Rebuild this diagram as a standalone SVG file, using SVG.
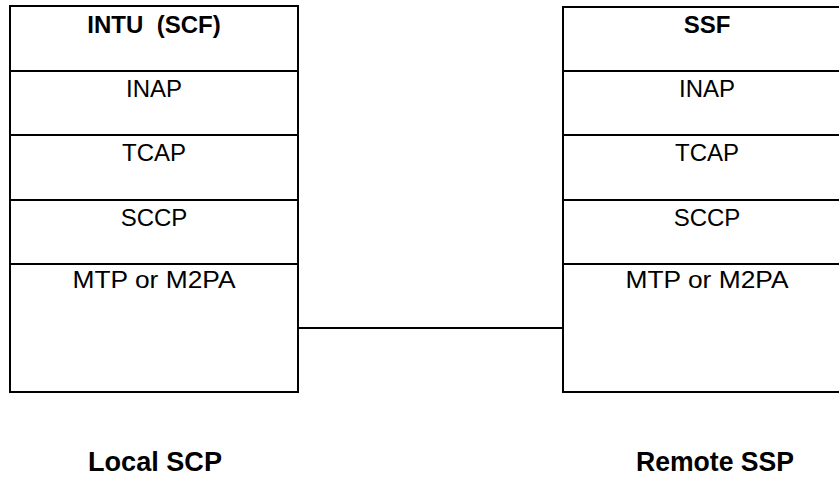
<svg xmlns="http://www.w3.org/2000/svg" width="839" height="488" viewBox="0 0 839 488">
<style>
.box{fill:#fff;stroke:#000;stroke-width:2}
.div{stroke:#000;stroke-width:2}
.t{font-family:"Liberation Sans",Arial,sans-serif;font-size:24px;text-anchor:middle;fill:#000}
.b{font-weight:bold}
.lbl{font-family:"Liberation Sans",Arial,sans-serif;font-size:27px;font-weight:bold;text-anchor:middle;fill:#000}
</style>
<g id="connectors">
<line x1="298" y1="328" x2="563" y2="328" stroke="#000" stroke-width="2"/>
</g>
<g id="local-stack">
<rect class="box" x="10" y="6" width="288" height="386"/>
<line class="div" x1="10" y1="71" x2="298" y2="71"/>
<line class="div" x1="10" y1="135" x2="298" y2="135"/>
<line class="div" x1="10" y1="200" x2="298" y2="200"/>
<line class="div" x1="10" y1="264" x2="298" y2="264"/>
<text class="t b" x="154" y="33" xml:space="preserve">INTU  (SCF)</text>
<text class="t" x="154" y="97">INAP</text>
<text class="t" x="154" y="161">TCAP</text>
<text class="t" x="154" y="226">SCCP</text>
<text class="t" x="154" y="288" textLength="163" lengthAdjust="spacingAndGlyphs">MTP or M2PA</text>
</g>
<g id="remote-stack">
<rect class="box" x="563" y="7" width="288" height="385"/>
<line class="div" x1="563" y1="71" x2="851" y2="71"/>
<line class="div" x1="563" y1="135" x2="851" y2="135"/>
<line class="div" x1="563" y1="200" x2="851" y2="200"/>
<line class="div" x1="563" y1="264" x2="851" y2="264"/>
<text class="t b" x="707" y="33">SSF</text>
<text class="t" x="707" y="97">INAP</text>
<text class="t" x="707" y="161">TCAP</text>
<text class="t" x="707" y="226">SCCP</text>
<text class="t" x="707" y="288" textLength="163" lengthAdjust="spacingAndGlyphs">MTP or M2PA</text>
</g>
<g id="local-label"><text class="lbl" x="155" y="471" textLength="134" lengthAdjust="spacingAndGlyphs">Local SCP</text></g>
<g id="remote-label"><text class="lbl" x="715" y="471" textLength="158" lengthAdjust="spacingAndGlyphs">Remote SSP</text></g>
</svg>
